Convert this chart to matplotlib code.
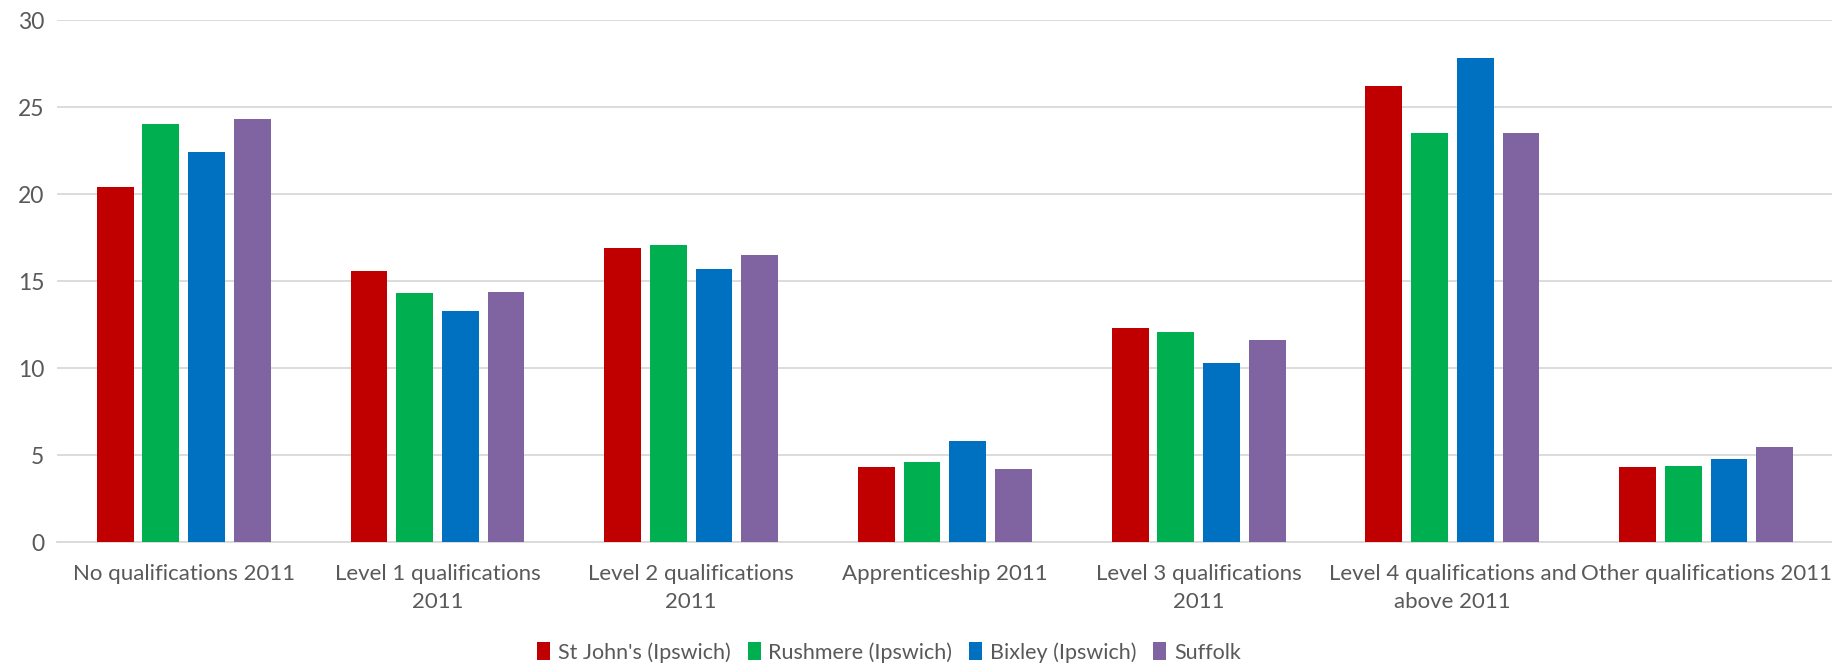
import numpy as np
import matplotlib.pyplot as plt

plt.rcParams['font.family'] = ['Lato', 'DejaVu Sans']

categories = ["No qualifications 2011", "Level 1 qualifications\n2011",
              "Level 2 qualifications\n2011", "Apprenticeship 2011",
              "Level 3 qualifications\n2011", "Level 4 qualifications and\nabove 2011",
              "Other qualifications 2011"]
st_johns = [20.4, 15.6, 16.9, 4.3, 12.3, 26.2, 4.3]
rushmere = [24.0, 14.3, 17.1, 4.6, 12.1, 23.5, 4.4]
bixley = [22.4, 13.3, 15.7, 5.8, 10.3, 27.8, 4.8]
suffolk = [24.3, 14.4, 16.5, 4.2, 11.6, 23.5, 5.5]
series_names = ["St John's (Ipswich)", "Rushmere (Ipswich)", "Bixley (Ipswich)", "Suffolk"]
colors = ["#C00000", "#00B050", "#0070C0", "#8064A2"]

fig, ax = plt.subplots(figsize=(18.33, 6.67), dpi=100)
fig.subplots_adjust(left=0.031, right=1.0, top=0.970, bottom=0.187)

x = np.arange(len(categories))
pitch = 0.18
width = 0.145
for i, vals in enumerate([st_johns, rushmere, bixley, suffolk]):
    ax.bar(x + (i - 1.5) * pitch, vals, width, color=colors[i], label=series_names[i], zorder=3)

ax.set_xlim(-0.5, len(categories) - 0.5)
ax.set_ylim(0, 30)
ax.set_yticks(range(0, 31, 5))
ax.set_xticks(x)
ax.set_xticklabels(categories, fontsize=16, color='#595959', linespacing=1.45)
ax.tick_params(axis='y', labelsize=16.5, labelcolor='#595959', length=0, pad=9)
ax.tick_params(axis='x', length=0, pad=16)
ax.yaxis.grid(True, color='#D9D9D9', linewidth=1.3, zorder=0)
ax.set_axisbelow(True)
for s in ['top', 'right', 'left']:
    ax.spines[s].set_visible(False)
ax.spines['bottom'].set_color('#D9D9D9')
ax.spines['bottom'].set_linewidth(1.3)

fig.legend(loc='center', bbox_to_anchor=(0.485, 0.022), ncol=4, frameon=False,
           fontsize=15.5, labelcolor='#595959', handlelength=0.6, handleheight=0.9,
           handletextpad=0.35, columnspacing=0.8)

fig.savefig('out.png', dpi=100)
